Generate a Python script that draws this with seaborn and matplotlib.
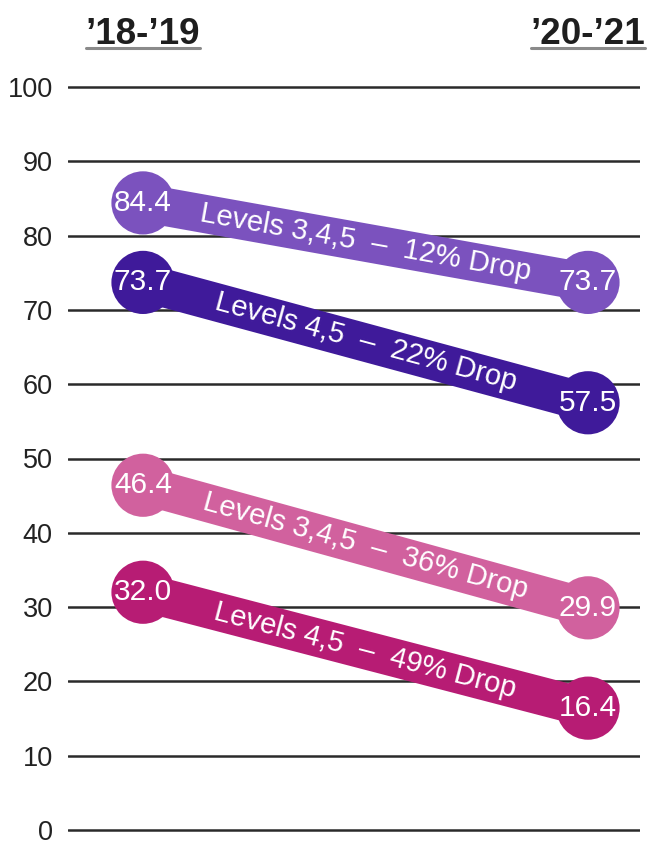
import numpy as np
import pandas as pd
import seaborn as sns
import matplotlib
matplotlib.use("Agg")
import matplotlib.pyplot as plt
from matplotlib.transforms import blended_transform_factory
from matplotlib.lines import Line2D

# School years compared
years = ["\u201918-\u201919", "\u201920-\u201921"]

# Share of students at each proficiency band
series_labels = [
    "Levels 3,4,5  \u2013  12% Drop",
    "Levels 4,5  \u2013  22% Drop",
    "Levels 3,4,5  \u2013  36% Drop",
    "Levels 4,5  \u2013  49% Drop",
]
start_values = [84.4, 73.7, 46.4, 32.0]
end_values = [73.7, 57.5, 29.9, 16.4]
colors = ["#7b52be", "#3f1a9a", "#d1619e", "#b71c74"]

y_ticks = list(range(0, 101, 10))

sns.set_style("white")
plt.rcParams["font.family"] = ["Liberation Sans", "DejaVu Sans"]

W, H = 654, 842
fig = plt.figure(figsize=(W / 100, H / 100), dpi=100)

# axes placement in pixels
px_left, px_right = 68, 640
px_per_unit = (830 - 87) / 100.0
y_lo, y_hi = -1.0, 101.0
px_bottom = 830 + (0 - y_lo) * px_per_unit
px_top = 87 - (y_hi - 100) * px_per_unit
ax = fig.add_axes([px_left / W, (H - px_bottom) / H,
                   (px_right - px_left) / W, (px_bottom - px_top) / H])

# x positions of the two columns
x0_px, x1_px = 143, 588
span = (px_right - px_left) / (x1_px - x0_px)
x_lo = -(x0_px - px_left) / (x1_px - x0_px)

frames = []
for lab, a, b in zip(series_labels, start_values, end_values):
    frames.append(pd.DataFrame({"x": [0, 1], "value": [a, b], "series": lab}))
df = pd.concat(frames, ignore_index=True)

for lab, col in zip(series_labels, colors):
    sub = df[df["series"] == lab]
    sns.lineplot(data=sub, x="x", y="value", color=col, linewidth=27.5,
                 solid_capstyle="butt", ax=ax, legend=False, zorder=3)
    ax.scatter(sub["x"], sub["value"], s=45.5 ** 2, color=col, zorder=4,
               edgecolors="none", clip_on=False)

ax.set_xlim(x_lo, x_lo + span)
ax.set_ylim(y_lo, y_hi)
ax.set_xlabel("")
ax.set_ylabel("")
ax.set_yticks(y_ticks)
ax.set_yticklabels([str(t) for t in y_ticks], fontsize=19.5, color="#222222")
ax.set_xticks([])
ax.tick_params(axis="y", length=0, pad=11)
ax.yaxis.grid(True, color="#2a2a2a", linewidth=1.8)
ax.set_axisbelow(True)
for s in ax.spines.values():
    s.set_visible(False)

fig.canvas.draw()

for lab, a, b, col in zip(series_labels, start_values, end_values, colors):
    # value labels in the circles
    for xx, v in ((0, a), (1, b)):
        ax.text(xx, v, f"{v:.1f}", ha="center", va="center", color="white",
                fontsize=21.5, zorder=6)
    # band label along the line
    p0 = ax.transData.transform((0, a))
    p1 = ax.transData.transform((1, b))
    ang = np.degrees(np.arctan2(p1[1] - p0[1], p1[0] - p0[0]))
    ax.text(0.5, (a + b) / 2, lab, ha="center", va="center", color="white",
            fontsize=21, rotation=ang, rotation_mode="anchor", zorder=6)

# column headers with underline
trans = blended_transform_factory(ax.transData, fig.transFigure)
renderer = fig.canvas.get_renderer()
for xx, yr in zip([0, 1], years):
    txt = ax.text(xx, (H - 44) / H, yr, transform=trans, ha="center",
                  va="baseline", fontsize=26.5, fontweight="bold",
                  color="#1e1e1e")
    bb = txt.get_window_extent(renderer=renderer)
    y_line = (H - 48) / H
    fig.add_artist(Line2D([bb.x0 / W, bb.x1 / W], [y_line, y_line],
                          color="#8a8a8a", linewidth=2.2,
                          transform=fig.transFigure))

fig.savefig("out.png", dpi=100, facecolor="white")
